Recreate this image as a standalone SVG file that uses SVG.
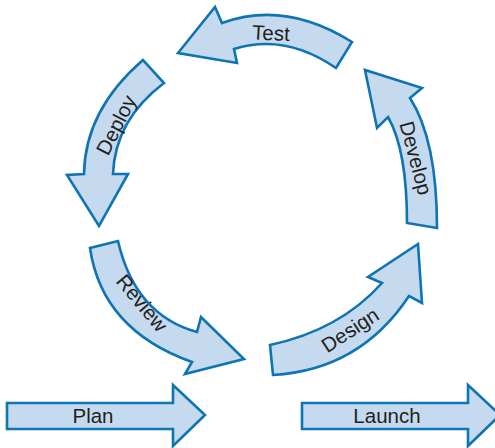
<svg xmlns="http://www.w3.org/2000/svg" width="495" height="448" viewBox="0 0 495 448">
<style>
.arr{fill:#c5daee;stroke:#0f74b2;stroke-width:2.6;stroke-linejoin:miter}
.lbl{font-family:"Liberation Sans",Arial,sans-serif;font-size:20.5px;fill:#231f20;text-anchor:middle}
</style>
<rect width="495" height="448" fill="#ffffff"/>
<g id="connectors"></g>
<g id="test">
<path class="arr" d="M352,42 Q285,0 222,23 L215,7 L178,53 L237,63 L234,49 Q285,33 336,68 Z"/>
<text class="lbl" x="271" y="33" dy="0.35em" transform="rotate(3 271 33)">Test</text>
</g>
<g id="deploy">
<path class="arr" d="M143,60 Q85,110 84,174 L67,175 L99,226 L128,174 L113,174 Q115,120 164,83 Z"/>
<text class="lbl" x="116" y="125" dy="0.35em" transform="rotate(-63 116 125)">Deploy</text>
</g>
<g id="develop">
<path class="arr" d="M437,228 Q437,140 410,98 L422,88 L365,70 L377,128 L388,117 Q407,150 407,223 Z"/>
<text class="lbl" x="416" y="158" dy="0.35em" transform="rotate(75 416 158)">Develop</text>
</g>
<g id="review">
<path class="arr" d="M90,248 Q102,330 192,362 L185,374 L244,359 L201,317 L197,332 Q135,315 118,241 Z"/>
<text class="lbl" x="142" y="303" dy="0.35em" transform="rotate(50 142 303)">Review</text>
</g>
<g id="design">
<path class="arr" d="M270,345 Q340,330 382,283 L368,277 L418,244 L422,303 L409,296 Q360,370 273,375 Z"/>
<text class="lbl" x="350" y="330" dy="0.35em" transform="rotate(-33 350 330)">Design</text>
</g>
<g id="plan">
<path class="arr" d="M7,403 L173,403 L173,385 L205,415 L173,446 L173,429 L7,429 Z"/>
<text class="lbl" x="93" y="416" dy="0.35em">Plan</text>
</g>
<g id="launch">
<path class="arr" d="M302,403 L468,403 L468,385 L500,415 L468,446 L468,429 L302,429 Z"/>
<text class="lbl" x="387" y="416" dy="0.35em">Launch</text>
</g>
</svg>
